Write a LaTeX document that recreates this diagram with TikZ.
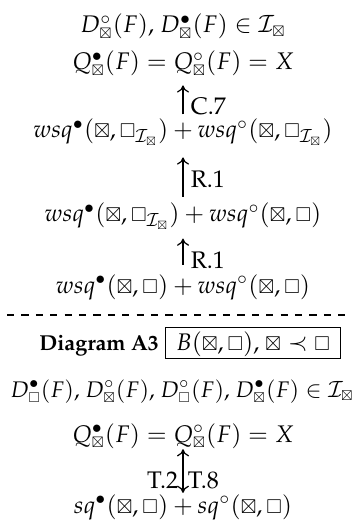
\documentclass[tikz,border=0pt]{standalone}
\usepackage[T1]{fontenc}
\usepackage{mathpazo}
\usepackage{amssymb}
\usepackage{graphicx}
\usetikzlibrary{arrows.meta}

% smaller box glyphs, as in the original
\newcommand{\shrunk}[1]{\mathord{\mathchoice
  {\scalebox{0.8}{$\displaystyle#1$}}{\scalebox{0.8}{$\textstyle#1$}}
  {\scalebox{0.8}{$\scriptstyle#1$}}{\scalebox{0.8}{$\scriptscriptstyle#1$}}}}
\newcommand{\bx}{\shrunk{\boxtimes}}
\newcommand{\sqr}{\shrunk{\square}}
\newcommand{\Ibx}{\mathcal{I}_{\bx}}

\begin{document}
\begin{tikzpicture}[
  x=0.4167pt, y=-0.4167pt,
  row/.style={anchor=base, inner sep=0pt, text height=7pt, text depth=2.5pt},
  lab/.style={inner xsep=3pt, inner ysep=1pt},
  tlab/.style={inner xsep=1.8pt, inner ysep=1pt},
  hyp/.style={draw, anchor=base, inner xsep=4.5pt, inner ysep=1.5pt,
              text height=8pt, text depth=2pt},
  imp/.style={-{To[length=3pt,width=5pt]}, line width=0.5pt},
  eqv/.style={{To[length=3pt,width=5pt]}-{To[length=3pt,width=5pt]}, line width=0.5pt}
]
\useasboundingbox (0,0) rectangle (355,527);

% ── upper diagram ────────────────────────────────────────────────────
\node[row] (dA) at (183,33)  {$D^{\circ}_{\bx}(F)$, $D^{\bullet}_{\bx}(F)\in\Ibx$};
\node[row] (qA) at (183,70)  {$Q^{\bullet}_{\bx}(F)=Q^{\circ}_{\bx}(F)=X$};
\node[row] (wA) at (183,138) {$wsq^{\bullet}(\bx,\sqr_{\Ibx})+wsq^{\circ}(\bx,\sqr_{\Ibx})$};
\node[row] (wB) at (183,222) {$wsq^{\bullet}(\bx,\sqr_{\Ibx})+wsq^{\circ}(\bx,\sqr)$};
\node[row] (wC) at (183,293) {$wsq^{\bullet}(\bx,\sqr)+wsq^{\circ}(\bx,\sqr)$};

\draw[imp, shorten <=2.6pt, shorten >=3.7pt] (wA.north) --
      node[lab, right, pos=0.33] {C.7} (qA.south);
\draw[imp, shorten <=3.4pt, shorten >=5.4pt] (wB.north) --
      node[lab, right, pos=0.42] {R.1} (wA.south);
\draw[imp, shorten <=4.6pt, shorten >=4.2pt] (wC.north) --
      node[lab, right, pos=0.32] {R.1} (wB.south);

% ── separator ────────────────────────────────────────────────────────
\coordinate (cutL) at (7,315);
\coordinate (cutR) at (350,315);
\draw[dashed, line width=0.5pt] (cutL) -- (cutR);

% ── lower diagram ────────────────────────────────────────────────────
\node[row] (title) at (99,350) {\fontsize{9}{11}\selectfont\textbf{Diagram A3}};
\node[hyp] (cond)  at (253,350) {$B(\bx,\sqr)$, $\bx\prec\sqr$};

\node[row] (dB) at (182,397) {\fontsize{9.4}{11}\selectfont
  $D^{\bullet}_{\sqr}(F)$, $D^{\circ}_{\bx}(F)$, $D^{\circ}_{\sqr}(F)$, $D^{\bullet}_{\bx}(F)\in\Ibx$};
\node[row] (qB) at (183,442) {$Q^{\bullet}_{\bx}(F)=Q^{\circ}_{\bx}(F)=X$};
\node[row] (sB) at (183,513) {$sq^{\bullet}(\bx,\sqr)+sq^{\circ}(\bx,\sqr)$};

\draw[eqv, shorten <=1.2pt, shorten >=0.3pt] (sB.north) --
      node[tlab, left, pos=0.32] {T.2}
      node[tlab, right, pos=0.32] {T.8} (qB.south);

\end{tikzpicture}
\end{document}
